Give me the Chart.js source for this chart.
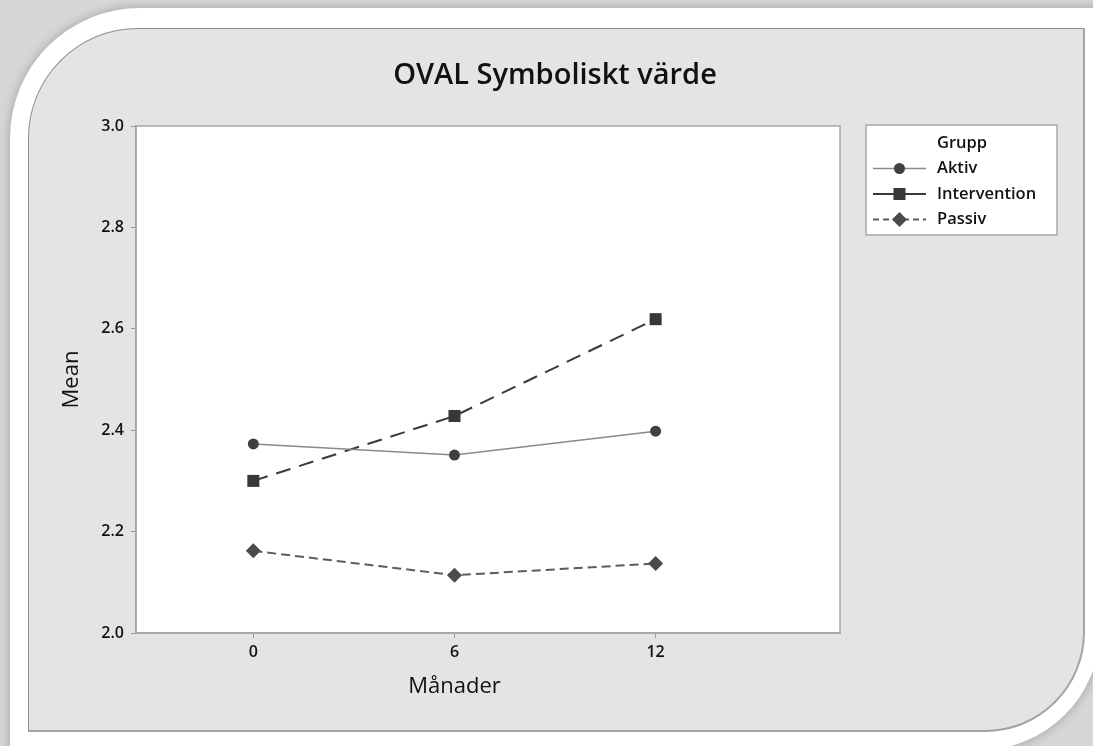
<!DOCTYPE html>
<html>
<head>
<meta charset="utf-8">
<script src="https://cdn.jsdelivr.net/npm/chart.js@4/dist/chart.umd.min.js"></script>
<style>
  html, body { margin: 0; padding: 0; }
  body { width: 1093px; height: 746px; overflow: hidden; position: relative; background: #d6d6d6; }
  .outer {
    position: absolute; left: 10px; top: 8px; width: 1090px; height: 742px;
    background: #ffffff; border-radius: 130px 0 120px 0;
    box-shadow: 0 0 10px 1px rgba(0, 0, 0, 0.22);
  }
  .panel {
    position: absolute; left: 28px; top: 28px; width: 1054px; height: 701px;
    background: #e4e4e4; border: 1px solid #8e8e8e; border-right: 2px solid #a4a4a4; border-bottom: 2px solid #a4a4a4;
    border-radius: 110px 0 100px 0;
  }
  #wrap { position: absolute; left: 0; top: 0; width: 1093px; height: 746px; }
</style>
</head>
<body>
<div class="outer"></div>
<div class="panel"></div>
<div id="wrap"><canvas id="chart" width="1093" height="746"></canvas></div>
<script>
const months = [0, 6, 12];
const aktiv = [2.373, 2.351, 2.398];
const intervention = [2.300, 2.428, 2.619];
const passiv = [2.162, 2.114, 2.137];
const groupNames = ['Aktiv', 'Intervention', 'Passiv'];
const yTicks = [2.0, 2.2, 2.4, 2.6, 2.8, 3.0];

const FONT = '"Open Sans", "Noto Sans", sans-serif';

function points(values) {
  return months.map((m, i) => ({ x: m, y: values[i] }));
}

// white plot area with a grey frame
const plotFrame = {
  id: 'plotFrame',
  beforeDraw(chart) {
    const a = chart.chartArea;
    const ctx = chart.ctx;
    ctx.save();
    ctx.fillStyle = '#ffffff';
    ctx.fillRect(a.left, a.top, a.right - a.left, a.bottom - a.top);
    ctx.restore();
  },
  afterDatasetsDraw(chart) {
    const a = chart.chartArea;
    const ctx = chart.ctx;
    ctx.save();
    ctx.strokeStyle = '#a6a6a6';
    ctx.lineWidth = 1.5;
    ctx.strokeRect(a.left, a.top, a.right - a.left, a.bottom - a.top);
    ctx.restore();
  }
};

// title over the whole panel, x title over the data range, Minitab style legend box
const extras = {
  id: 'extras',
  afterDraw(chart) {
    const ctx = chart.ctx;
    const xs = chart.scales.x;
    ctx.save();
    ctx.fillStyle = '#111';
    ctx.textAlign = 'center';
    ctx.textBaseline = 'middle';
    ctx.font = '600 29px ' + FONT;
    ctx.fillText('OVAL Symboliskt värde', 555, 76);

    ctx.font = '500 22px ' + FONT;
    const mid = (xs.getPixelForValue(months[0]) + xs.getPixelForValue(months[months.length - 1])) / 2;
    ctx.fillText('Månader', mid, 687);

    // legend
    const bx = 866, by = 125, bw = 191, bh = 110;
    ctx.fillStyle = '#ffffff';
    ctx.fillRect(bx, by, bw, bh);
    ctx.strokeStyle = '#a6a6a6';
    ctx.lineWidth = 1.5;
    ctx.strokeRect(bx, by, bw, bh);

    ctx.fillStyle = '#111';
    ctx.font = '600 16.5px ' + FONT;
    ctx.textAlign = 'left';
    ctx.fillText('Grupp', 937, 143);

    chart.data.datasets.forEach((ds, i) => {
      const y = 168.5 + i * 25.5;
      ctx.save();
      ctx.strokeStyle = ds.borderColor;
      ctx.lineWidth = ds.borderWidth;
      ctx.setLineDash(ds.legendDash || []);
      ctx.beginPath();
      ctx.moveTo(873, y);
      ctx.lineTo(926, y);
      ctx.stroke();
      ctx.restore();
      const opts = {
        pointStyle: ds.pointStyle, radius: ds.pointRadius, rotation: 0,
        borderWidth: 0
      };
      ctx.save();
      ctx.fillStyle = ds.pointBackgroundColor;
      ctx.strokeStyle = ds.pointBackgroundColor;
      if (Chart.helpers && Chart.helpers.drawPoint) {
        Chart.helpers.drawPoint(ctx, opts, 899.5, y);
      }
      ctx.restore();
      ctx.fillStyle = '#111';
      ctx.font = '600 16.5px ' + FONT;
      ctx.fillText(ds.label, 937, y);
    });
    ctx.restore();
  }
};

new Chart(document.getElementById('chart'), {
  type: 'line',
  data: {
    datasets: [
      {
        label: groupNames[0],
        data: points(aktiv),
        borderColor: '#8a8a8a',
        borderWidth: 1.5,
        pointStyle: 'circle',
        pointRadius: 5.5,
        pointBackgroundColor: '#404040',
        pointBorderWidth: 0,
        legendDash: []
      },
      {
        label: groupNames[1],
        data: points(intervention),
        borderColor: '#3a3a3a',
        borderWidth: 2,
        borderDash: [15, 9],
        pointStyle: 'rect',
        pointRadius: 8.5,
        pointBackgroundColor: '#383838',
        pointBorderWidth: 0,
        legendDash: []
      },
      {
        label: groupNames[2],
        data: points(passiv),
        borderColor: '#5c5c5c',
        borderWidth: 2,
        borderDash: [9, 5],
        pointStyle: 'rectRot',
        pointRadius: 7.5,
        pointBackgroundColor: '#4a4a4a',
        pointBorderWidth: 0,
        legendDash: [6, 4]
      }
    ]
  },
  plugins: [plotFrame, extras],
  options: {
    responsive: false,
    animation: false,
    layout: { padding: { left: 0, right: 253, top: 126, bottom: 0 } },
    plugins: {
      legend: { display: false },
      tooltip: { enabled: false },
      title: { display: false }
    },
    scales: {
      x: {
        type: 'linear',
        min: -3.5,
        max: 17.5,
        afterBuildTicks(scale) {
          scale.ticks = months.map(v => ({ value: v }));
        },
        afterFit(scale) { scale.height = 113; },
        grid: { drawOnChartArea: false, drawTicks: true, tickLength: 5, color: '#9a9a9a' },
        border: { color: '#a6a6a6', width: 1.5 },
        ticks: { color: '#111', font: { family: FONT, size: 16, weight: '600' }, padding: 5 }
      },
      y: {
        min: 2,
        max: 3,
        afterBuildTicks(scale) {
          scale.ticks = yTicks.map(v => ({ value: v }));
        },
        afterFit(scale) { scale.width = 136; },
        grid: { drawOnChartArea: false, drawTicks: true, tickLength: 5, color: '#9a9a9a' },
        border: { color: '#a6a6a6', width: 1.5 },
        ticks: {
          color: '#111', font: { family: FONT, size: 16, weight: '600' }, padding: 7,
          callback: v => Number(v).toFixed(1)
        },
        title: {
          display: true, text: 'Mean', color: '#111',
          font: { family: FONT, size: 22, weight: '500', lineHeight: 1.2 },
          padding: { top: 59, bottom: 0 }
        }
      }
    }
  }
});
</script>
</body>
</html>
